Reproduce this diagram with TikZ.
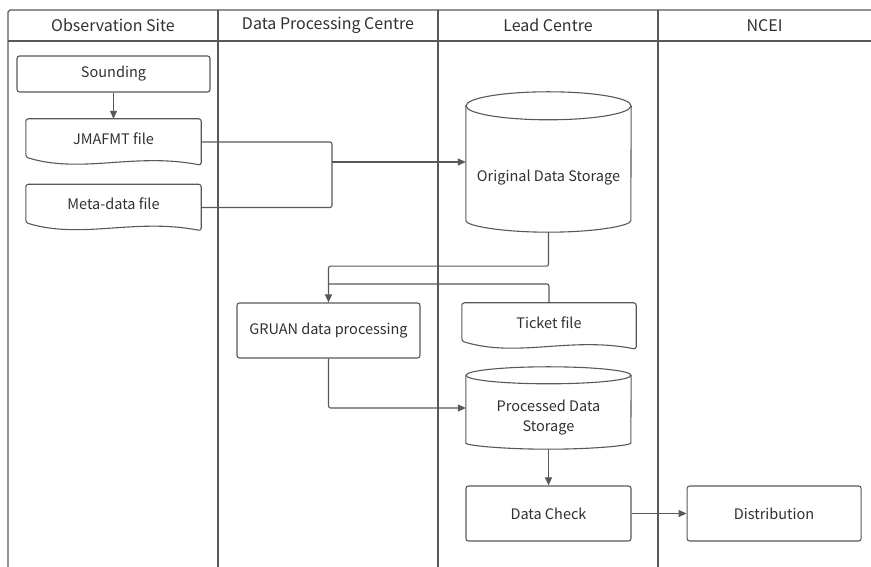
\documentclass[tikz,border=0pt]{standalone}
\usepackage{fontspec}
\setmainfont{Noto Sans CJK SC}
\usepackage{tikz}
\usetikzlibrary{positioning,arrows.meta,calc}
\definecolor{edge}{HTML}{585858}
\definecolor{ink}{HTML}{303030}

% document shape with a wavy bottom
\newcommand{\docpath}[1]{%
  \draw[outline] (#1.north west) -- (#1.north east) -- (#1.south east)
    .. controls ($(#1.south west)!0.62!(#1.south east)+(0,13)$) and ($(#1.south west)!0.32!(#1.south east)+(0,-9)$)
    .. ($(#1.south west)+(0,8)$) -- cycle;}
% cylinder drawn round an invisible node, #2 = half height of the ellipse
\newcommand{\cylpath}[2]{%
  \draw[outline] ($(#1.north west)+(0,-#2)$) -- ($(#1.south west)+(0,#2)$)
    arc[start angle=180,end angle=360,x radius=82.5,y radius=#2] -- ($(#1.north east)+(0,-#2)$);
  \draw[outline] ($(#1.north)+(0,-#2)$) ellipse[x radius=82.5,y radius=#2];}

\begin{document}
\begin{tikzpicture}[x=1pt,y=1pt,font=\fontsize{14.5}{20}\selectfont,text=ink]
    \tikzstyle{outline}=[draw=edge, line width=1.1pt, rounded corners=2.5pt]
    \tikzstyle{box}=[outline, minimum height=55pt, text centered]
    \tikzstyle{doc}=[minimum width=175pt, minimum height=46pt, text centered]
    \tikzstyle{cyl}=[minimum width=165pt, text centered]
    \tikzstyle{lane}=[font=\fontsize{16}{20}\selectfont]
    \tikzstyle{flow}=[draw=edge, line width=1.1pt, rounded corners=2pt, -{Triangle[length=8pt,width=7pt]}]
    \tikzstyle{link}=[draw=edge, line width=1.1pt, rounded corners=2pt]

    \useasboundingbox (0,0) rectangle (871,567);

    % swimlanes
    \draw[draw=edge, line width=1.1pt] (871,557) -- (10,557) -- (8,555) -- (8,0);
    \draw[draw=edge, line width=1.1pt] (8,526) -- (871,526);
    \foreach \x in {218,438,658}
        \draw[draw=edge, line width=1.1pt] (\x,557) -- (\x,0);
    \node[lane] (obssite) at (113,541.5) {Observation Site};
    \node[lane] (dpc) at (328,541.5) {Data Processing Centre};
    \node[lane] (leadcentre) at (548,541.5) {Lead Centre};
    \node[lane] (ncei) at (764.5,541.5) {NCEI};

    % observation site
    \node[box, minimum width=193pt, minimum height=36pt] (sounding) at (113.5,493) {Sounding};
    \node[doc, label={[yshift=3.5pt]center:JMAFMT file}] (jmafmt) at (113.5,425) {};
    \node[doc, label={[yshift=3.5pt]center:Meta-data file}] (metadata) at (113.5,359.5) {};
    \docpath{jmafmt}
    \docpath{metadata}

    % lead centre
    \node[cyl, minimum height=140pt, label={[yshift=-16pt]center:Original Data Storage}] (original) at (548.5,405) {};
    \cylpath{original}{14}
    \node[doc, minimum width=174pt, label={[yshift=3pt]center:Ticket file}] (ticket) at (549,241) {};
    \docpath{ticket}
    \node[cyl, minimum height=82pt, label={[yshift=-9.5pt, align=center]center:Processed Data\\Storage}] (processed) at (548.5,159) {};
    \cylpath{processed}{8.5}
    \node[box, minimum width=165pt] (check) at (548.5,53.5) {Data Check};

    % data processing centre
    \node[box, minimum width=183pt] (gruan) at (328.5,236.5) {GRUAN data processing};

    % ncei
    \node[box, minimum width=174pt, right=55pt of check] (distribution) {Distribution};

    \coordinate (merge) at (332,405);
    \coordinate (tkjoin) at (328.5,283);

    \draw[flow] (sounding) -- (jmafmt);
    \draw[link] (jmafmt.east) -| (merge);
    \draw[link] (metadata.east) -| (merge);
    \draw[flow] (merge) -- (original.west);
    \draw[flow] (original.south) -- ++(0,-34) -| (gruan.north);
    \draw[link] (ticket.north) |- (tkjoin);
    \draw[flow] (gruan.south) |- (processed.west);
    \draw[flow] (processed) -- (check);
    \draw[flow] (check) -- (distribution);
\end{tikzpicture}
\end{document}
